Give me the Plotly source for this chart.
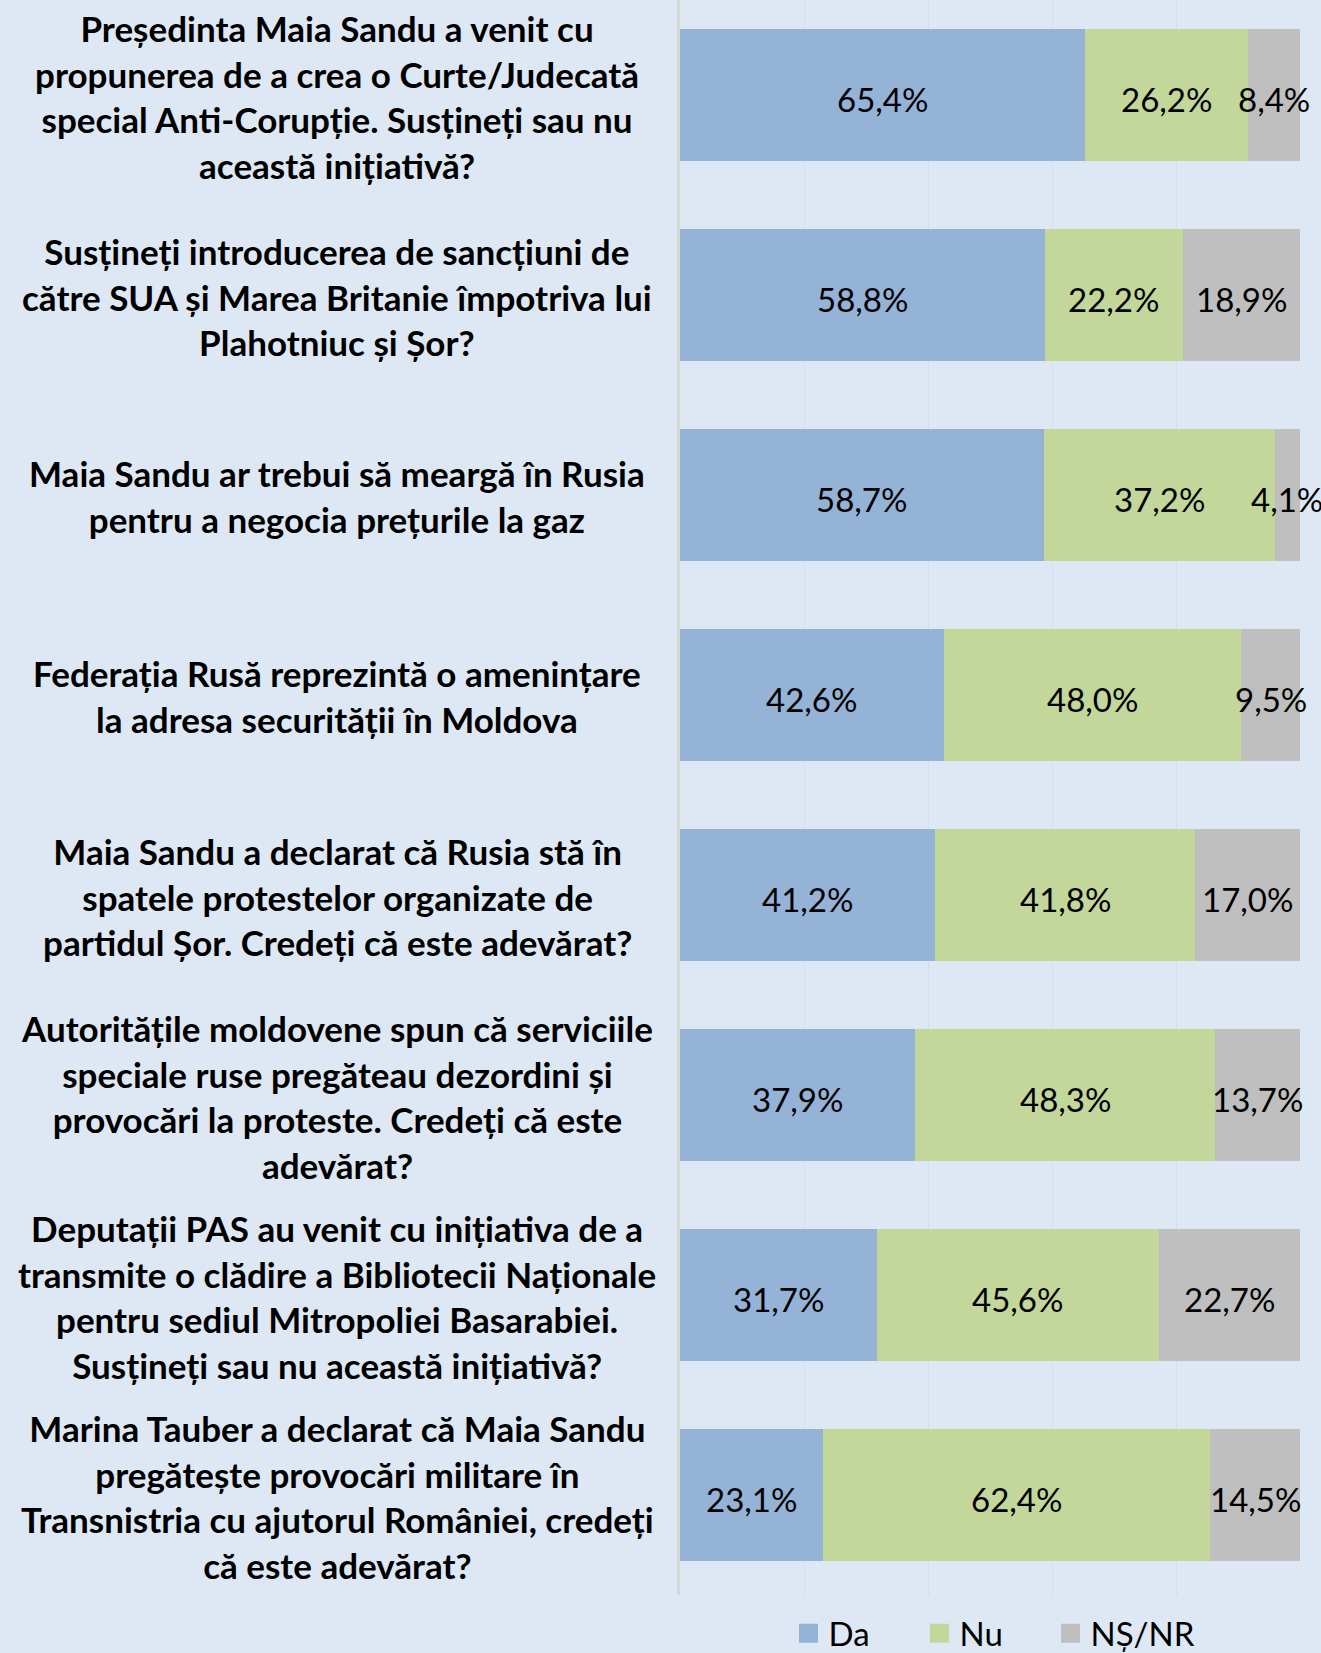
import plotly.graph_objects as go

questions = [
    "Președinta Maia Sandu a venit cu<br>propunerea de a crea o Curte/Judecată<br>special Anti-Corupție. Susțineți sau nu<br>această inițiativă?",
    "Susțineți introducerea de sancțiuni de<br>către SUA și Marea Britanie împotriva lui<br>Plahotniuc și Șor?",
    "Maia Sandu ar trebui să meargă în Rusia<br>pentru a negocia prețurile la gaz",
    "Federația Rusă reprezintă o amenințare<br>la adresa securității în Moldova",
    "Maia Sandu a declarat că Rusia stă în<br>spatele protestelor organizate de<br>partidul Șor. Credeți că este adevărat?",
    "Autoritățile moldovene spun că serviciile<br>speciale ruse pregăteau dezordini și<br>provocări la proteste. Credeți că este<br>adevărat?",
    "Deputații PAS au venit cu inițiativa de a<br>transmite o clădire a Bibliotecii Naționale<br>pentru sediul Mitropoliei Basarabiei.<br>Susțineți sau nu această inițiativă?",
    "Marina Tauber a declarat că Maia Sandu<br>pregătește provocări militare în<br>Transnistria cu ajutorul României, credeți<br>că este adevărat?",
]
da = [65.4, 58.8, 58.7, 42.6, 41.2, 37.9, 31.7, 23.1]
nu = [26.2, 22.2, 37.2, 48.0, 41.8, 48.3, 45.6, 62.4]
ns = [8.4, 18.9, 4.1, 9.5, 17.0, 13.7, 22.7, 14.5]
series_names = ["Da", "Nu", "NȘ/NR"]
series_colors = ["#95B3D7", "#C4D79B", "#BFBFBF"]

FONT = "Lato"
idx = list(range(len(questions)))
series = [da, nu, ns]

fig = go.Figure()
for name, vals, col in zip(series_names, series, series_colors):
    fig.add_trace(go.Bar(
        y=idx, x=vals, name=name, orientation="h", showlegend=False,
        marker=dict(color=col, line=dict(width=0)),
        hoverinfo="skip",
    ))

# data labels at normalized segment centres
for k, vals in enumerate(series):
    for i in idx:
        tot = da[i] + nu[i] + ns[i]
        start = sum(series[j][i] for j in range(k)) / tot * 100
        w = vals[i] / tot * 100
        fig.add_annotation(
            x=start + w / 2, y=i, xref="x", yref="y", showarrow=False,
            text=f"{vals[i]:.1f}%".replace(".", ","), yshift=-4,
            xanchor="center", yanchor="middle",
            font=dict(family=FONT, size=33, color="#000000"),
        )

# legend entries (square markers)
for name, col in zip(series_names, series_colors):
    fig.add_trace(go.Scatter(
        x=[None], y=[None], mode="markers", name=name,
        marker=dict(symbol="square", size=16, color=col,
                    line=dict(color=col, width=3)),
        hoverinfo="skip",
    ))
# invisible spacer entry so the last legend label is not clipped
fig.add_trace(go.Scatter(
    x=[None], y=[None], mode="markers", name=" ",
    marker=dict(symbol="square", size=16, color="rgba(0,0,0,0)"),
    hoverinfo="skip",
))

for i, q in enumerate(questions):
    fig.add_annotation(
        x=-0.553, xref="paper", y=i, yref="y", text=q, showarrow=False,
        xanchor="center", yanchor="middle", align="center", yshift=-1,
        font=dict(family=FONT, size=35, color="#000000", weight="bold"),
    )

fig.update_layout(
    width=1321, height=1653,
    margin=dict(l=680, r=21, t=0, b=58, autoexpand=False),
    paper_bgcolor="#DDE8F4", plot_bgcolor="#DDE8F4",
    barmode="stack", barnorm="percent", bargap=0.34,
    showlegend=True,
    legend=dict(
        orientation="h", x=0.175, xanchor="left", y=-0.024, yanchor="middle",
        font=dict(family=FONT, size=33, color="#000000"),
        bgcolor="rgba(0,0,0,0)", entrywidth=86, entrywidthmode="pixels",
        itemsizing="trace", traceorder="normal", itemwidth=30,
    ),
    font=dict(family=FONT),
)
fig.update_xaxes(range=[0, 100], dtick=20, showticklabels=False,
                 showgrid=True, gridcolor="#D2DEEA", gridwidth=1,
                 zeroline=False, showline=False, fixedrange=True)
fig.update_yaxes(range=[7.498, -0.477], showticklabels=False, showgrid=False,
                 zeroline=False, showline=True, linecolor="#D6D6D6", linewidth=3,
                 fixedrange=True)

fig.write_html("out.html", config={"displayModeBar": False},
               post_script="document.body.style.margin='0';")
